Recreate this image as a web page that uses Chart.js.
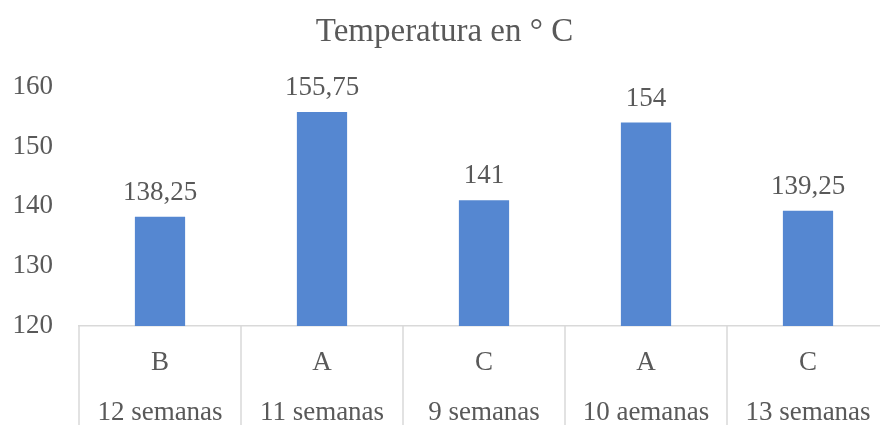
<!DOCTYPE html>
<html>
<head>
<meta charset="utf-8">
<script src="https://cdn.jsdelivr.net/npm/chart.js@4.4.1/dist/chart.umd.min.js"></script>
<style>
  html, body { margin: 0; padding: 0; background: #fff; overflow: hidden; }
  #wrap { position: relative; width: 890px; height: 450px; }
</style>
</head>
<body>
<div id="wrap"><canvas id="tempChart"></canvas></div>
<script>
// ===== datos =====
const letras = ['B', 'A', 'C', 'A', 'C'];
const semanas = ['12 semanas', '11 semanas', '9 semanas', '10 aemanas', '13 semanas'];
const temperaturas = [138.25, 155.75, 141, 154, 139.25];
const yTicks = [120, 130, 140, 150, 160];

const txtColor = '#595959';
const lineColor = '#d9d9d9';
const serif = "'Liberation Serif', 'Times New Roman', serif";

// etiquetas con coma decimal
const fmt = v => String(v).replace('.', ',');

// valores encima de las barras
const valueLabels = {
    id: 'valueLabels',
    afterDatasetsDraw(chart) {
        const ctx = chart.ctx;
        const meta = chart.getDatasetMeta(0);
        ctx.save();
        ctx.font = '27px ' + serif;
        ctx.fillStyle = txtColor;
        ctx.textAlign = 'center';
        ctx.textBaseline = 'alphabetic';
        meta.data.forEach((bar, i) => {
            ctx.fillText(fmt(temperaturas[i]), bar.x, bar.y - 17);
        });
        ctx.restore();
    }
};

// separadores verticales entre categorias (debajo del eje)
const catSeparators = {
    id: 'catSeparators',
    afterDraw(chart) {
        const ctx = chart.ctx;
        const xs = chart.scales.x;
        const area = chart.chartArea;
        const half = (xs.getPixelForValue(1) - xs.getPixelForValue(0)) / 2;
        ctx.save();
        ctx.strokeStyle = lineColor;
        ctx.lineWidth = 1.5;
        for (let i = 0; i <= letras.length; i++) {
            const x = xs.getPixelForValue(0) - half + i * half * 2;
            ctx.beginPath();
            ctx.moveTo(x, area.bottom);
            ctx.lineTo(x, chart.height);
            ctx.stroke();
        }
        ctx.restore();
    }
};

const ctx = document.getElementById('tempChart').getContext('2d');
new Chart(ctx, {
    type: 'bar',
    data: {
        labels: letras.map((l, i) => [l, semanas[i]]),
        datasets: [{
            data: temperaturas,
            backgroundColor: '#5587d1',
            barPercentage: 0.31,
            categoryPercentage: 1
        }]
    },
    options: {
        responsive: true,
        maintainAspectRatio: false,
        animation: false,
        layout: { padding: { left: 0, right: 1, top: 0, bottom: 0 } },
        plugins: {
            legend: { display: false },
            tooltip: { enabled: false },
            title: {
                display: true,
                text: 'Temperatura en ° C',
                color: txtColor,
                font: { family: serif, size: 33, weight: 'normal', lineHeight: 1.2 },
                padding: { top: 13, bottom: 34 }
            }
        },
        scales: {
            x: {
                grid: { display: false, drawTicks: false },
                border: { display: true, color: lineColor, width: 1.5 },
                ticks: {
                    color: txtColor,
                    padding: 12,
                    maxRotation: 0,
                    autoSkip: false,
                    font: { family: serif, size: 27, lineHeight: 1.85 }
                }
            },
            y: {
                min: 120,
                max: 160,
                afterBuildTicks: axis => { axis.ticks = yTicks.map(v => ({ value: v })); },
                afterFit: axis => { axis.width = 79; },
                grid: { display: false, drawTicks: false },
                border: { display: false },
                ticks: {
                    color: txtColor,
                    padding: 26,
                    font: { family: serif, size: 27 }
                }
            }
        }
    },
    plugins: [valueLabels, catSeparators]
});
</script>
</body>
</html>
